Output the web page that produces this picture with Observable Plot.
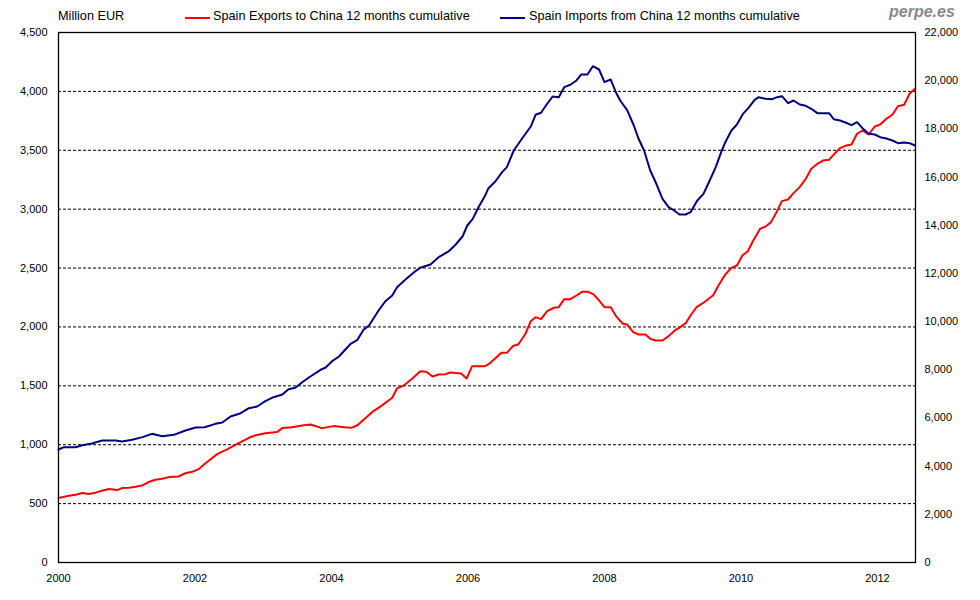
<!DOCTYPE html>
<html>
<head>
<meta charset="utf-8">
<script src="https://cdn.jsdelivr.net/npm/d3@7"></script>
<script src="https://cdn.jsdelivr.net/npm/@observablehq/plot@0.6"></script>
<style>
  html, body { margin: 0; padding: 0; background: #fff; }
  body { width: 980px; height: 600px; overflow: hidden; font-family: "Liberation Sans", Arial, sans-serif; }
  #head { position: relative; height: 24px; font-size: 12.7px; color: #000; }
  #head span { position: absolute; white-space: nowrap; }
  .sw { height: 2px; width: 25px; }
</style>
</head>
<body>
<div id="head">
  <span style="left:58px; top:9px;">Million EUR</span>
  <span class="sw" style="left:185px; top:17px; background:#ff0000;"></span>
  <span style="left:213px; top:9px;">Spain Exports to China 12 months cumulative</span>
  <span class="sw" style="left:500px; top:17px; background:#000080;"></span>
  <span style="left:529px; top:9px;">Spain Imports from China 12 months cumulative</span>
  <span style="left:889px; top:3px; font-size:16px; font-weight:bold; font-style:italic; color:#8a8a8a;">perpe.es</span>
</div>
<div id="chart"></div>
<script>
// Tick values
const yearTicks = [2000, 2002, 2004, 2006, 2008, 2010, 2012];
const leftTicks = [0, 500, 1000, 1500, 2000, 2500, 3000, 3500, 4000, 4500];
const gridTicks = [500, 1000, 1500, 2000, 2500, 3000, 3500, 4000];
const rightTicks = [0, 2000, 4000, 6000, 8000, 10000, 12000, 14000, 16000, 18000, 20000, 22000];

// Spain exports to China, 12 months cumulative (million EUR, left axis)
const exportsT = [2000.00,2000.15,2000.25,2000.35,2000.44,2000.54,2000.64,2000.74,2000.86,2000.93,
  2001.03,2001.13,2001.23,2001.32,2001.42,2001.52,2001.62,2001.76,2001.86,2001.96,
  2002.06,2002.14,2002.33,2002.47,2002.64,2002.79,2002.89,2003.03,2003.20,2003.28,
  2003.42,2003.57,2003.69,2003.86,2004.03,2004.19,2004.30,2004.38,2004.62,2004.72,
  2004.89,2004.96,2005.06,2005.18,2005.30,2005.39,2005.48,2005.57,2005.67,2005.74,
  2005.90,2005.98,2006.06,2006.25,2006.32,2006.49,2006.57,2006.66,2006.74,2006.84,
  2006.92,2006.99,2007.07,2007.16,2007.26,2007.33,2007.41,2007.50,2007.59,2007.67,
  2007.76,2007.84,2007.92,2008.00,2008.09,2008.18,2008.27,2008.33,2008.42,2008.50,
  2008.60,2008.67,2008.75,2008.85,2008.94,2009.03,2009.11,2009.19,2009.26,2009.35,
  2009.46,2009.59,2009.67,2009.77,2009.86,2009.94,2010.02,2010.10,2010.18,2010.28,
  2010.36,2010.44,2010.52,2010.60,2010.69,2010.77,2010.86,2010.95,2011.03,2011.12,
  2011.20,2011.29,2011.36,2011.45,2011.53,2011.62,2011.70,2011.78,2011.87,2011.96,
  2012.04,2012.13,2012.22,2012.30,2012.39,2012.47,2012.55];
const exportsV = [548,567,576,590,581,593,610,624,615,632,
  635,643,655,683,702,711,725,730,758,770,
  795,837,922,960,1013,1059,1081,1098,1107,1141,
  1149,1163,1172,1141,1158,1149,1145,1165,1288,1326,
  1399,1478,1503,1560,1624,1619,1579,1596,1599,1613,
  1605,1562,1667,1667,1691,1780,1780,1838,1853,1940,
  2049,2083,2066,2134,2163,2168,2236,2236,2267,2298,
  2298,2276,2225,2168,2168,2083,2027,2021,1956,1936,
  1936,1900,1885,1885,1922,1970,1998,2032,2097,2168,
  2210,2267,2352,2445,2502,2522,2607,2643,2734,2833,
  2853,2890,2974,3068,3082,3136,3187,3258,3343,3385,
  3413,3419,3464,3518,3538,3549,3640,3668,3634,3702,
  3719,3767,3804,3874,3886,3980,4022];

// Spain imports from China, 12 months cumulative (million EUR, right axis)
const importsT = [2000.00,2000.08,2000.25,2000.35,2000.49,2000.64,2000.84,2000.93,2001.08,2001.23,
  2001.37,2001.52,2001.69,2001.86,2002.01,2002.14,2002.30,2002.40,2002.52,2002.67,
  2002.79,2002.91,2003.03,2003.15,2003.28,2003.37,2003.47,2003.57,2003.69,2003.84,
  2003.91,2004.01,2004.11,2004.19,2004.28,2004.38,2004.47,2004.55,2004.69,2004.79,
  2004.89,2004.96,2005.08,2005.21,2005.30,2005.45,2005.57,2005.72,2005.82,2005.92,
  2005.99,2006.07,2006.16,2006.25,2006.30,2006.40,2006.50,2006.57,2006.67,2006.79,
  2006.92,2006.99,2007.07,2007.16,2007.24,2007.33,2007.41,2007.50,2007.59,2007.66,
  2007.75,2007.83,2007.92,2008.00,2008.09,2008.16,2008.23,2008.33,2008.43,2008.50,
  2008.58,2008.67,2008.76,2008.85,2008.94,2009.02,2009.10,2009.19,2009.26,2009.36,
  2009.45,2009.53,2009.63,2009.71,2009.77,2009.86,2009.94,2010.03,2010.11,2010.20,
  2010.26,2010.36,2010.46,2010.53,2010.60,2010.69,2010.77,2010.86,2010.95,2011.03,
  2011.12,2011.29,2011.36,2011.45,2011.53,2011.62,2011.70,2011.79,2011.87,2011.96,
  2012.04,2012.13,2012.22,2012.30,2012.39,2012.47,2012.55];
const importsV = [4691,4787,4787,4870,4940,5064,5064,5023,5092,5203,
  5341,5244,5300,5479,5604,5617,5756,5811,6060,6198,
  6405,6476,6696,6862,6974,7194,7250,7484,7721,7999,
  8082,8356,8551,8800,9078,9244,9659,9838,10460,10847,
  11083,11428,11735,12051,12233,12370,12673,12922,13200,13532,
  13989,14266,14776,15221,15538,15815,16202,16410,17102,17588,
  18098,18584,18667,19041,19344,19315,19730,19829,20008,20257,
  20257,20602,20464,19937,20050,19564,19177,18791,18140,17588,
  17102,16272,15720,15097,14749,14611,14445,14445,14541,15027,
  15304,15786,16410,17032,17447,17932,18182,18625,18874,19206,
  19315,19247,19232,19315,19357,19066,19177,19011,18957,18833,
  18652,18652,18402,18347,18264,18153,18277,18001,17794,17766,
  17655,17600,17517,17406,17434,17406,17310];

const ratio = 4500 / 22000;
const exportsData = exportsT.map((t, i) => ({t, v: exportsV[i]}));
const importsData = importsT.map((t, i) => ({t, v: importsV[i]}));
const fmt = d3.format(",");

const chart = Plot.plot({
  width: 980,
  height: 576,
  marginTop: 8,
  marginBottom: 38,
  marginLeft: 58,
  marginRight: 65,
  style: {fontFamily: "'Liberation Sans', Arial, sans-serif", fontSize: "11px", background: "white", color: "black"},
  x: {domain: [2000, 2012.557], label: null},
  y: {domain: [0, 4500], label: null},
  marks: [
    Plot.ruleY(gridTicks, {stroke: "black", strokeWidth: 1, strokeDasharray: "3,2"}),
    Plot.line(exportsData, {x: "t", y: "v", stroke: "#ff0000", strokeWidth: 2}),
    Plot.line(importsData, {x: "t", y: d => d.v * ratio, stroke: "#000080", strokeWidth: 2}),
    Plot.frame({stroke: "black", strokeWidth: 1.3}),
    Plot.axisY(leftTicks, {anchor: "left", tickSize: 0, tickPadding: 11, tickFormat: fmt, label: null}),
    Plot.axisY(rightTicks.map(v => v * ratio), {anchor: "right", tickSize: 0, tickPadding: 9, tickFormat: d => fmt(Math.round(d / ratio)), label: null}),
    Plot.axisX(yearTicks, {tickSize: 0, tickPadding: 12, tickFormat: "d", label: null})
  ]
});
document.getElementById("chart").appendChild(chart);
</script>
</body>
</html>
